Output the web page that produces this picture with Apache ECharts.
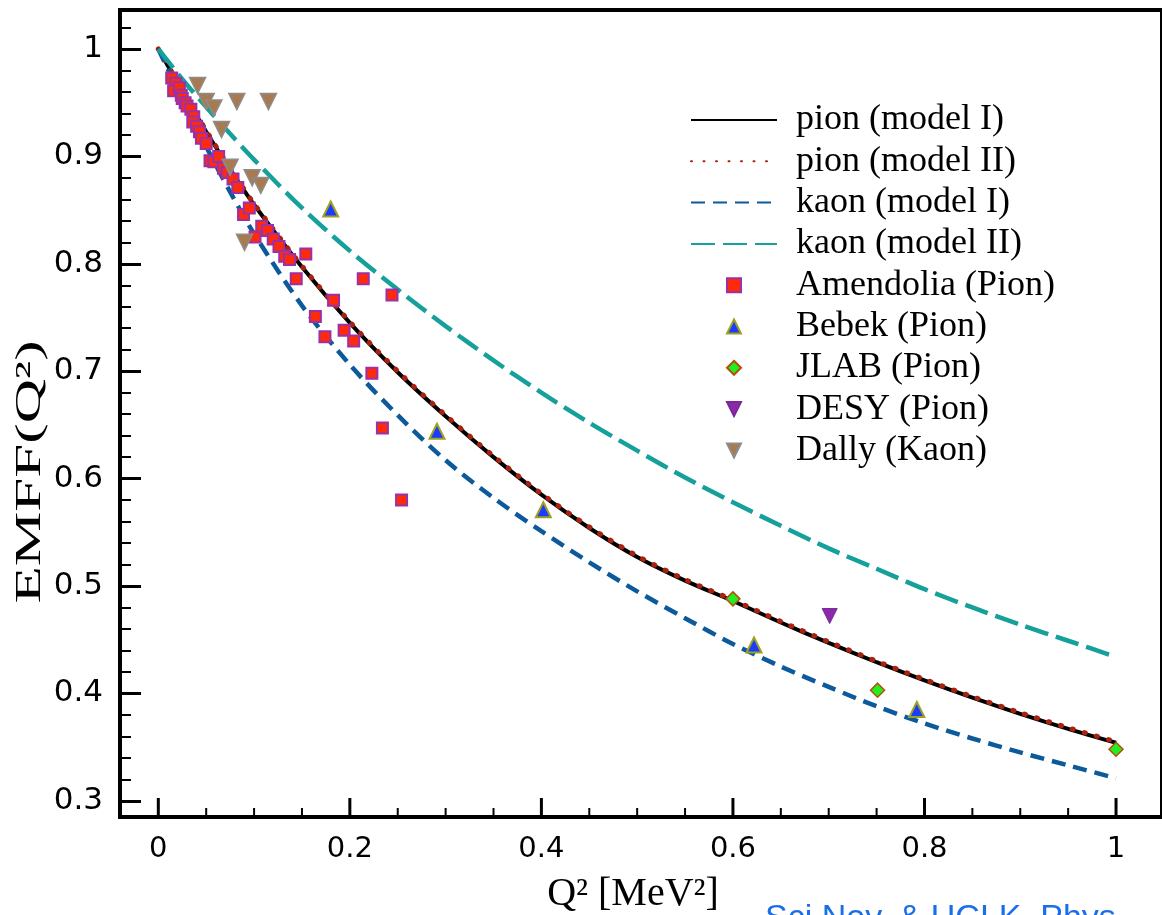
<!DOCTYPE html>
<html style="height: 100%">

<head>
    <meta charset="utf-8">
</head>

<body style="height: 100%; margin: 0; background: #fff">
    <div id="chart" style="width: 1162px; height: 915px"></div>

    <script type="text/javascript"
        src="https://cdn.jsdelivr.net/npm/echarts@6.0.0/dist/echarts.min.js"></script>

    <script type="text/javascript">
        // model curves on a fixed Q^2 grid
        var qGrid = [0, 0.025, 0.05, 0.075, 0.1, 0.15, 0.2, 0.25, 0.3, 0.35, 0.4, 0.45, 0.5, 0.55, 0.6, 0.65, 0.7, 0.75, 0.8, 0.85, 0.9, 0.95, 1];
        var pionModel1 = [1, 0.961, 0.923, 0.888, 0.855, 0.797, 0.745, 0.699, 0.658, 0.620, 0.585, 0.554, 0.527, 0.505, 0.486, 0.466, 0.447, 0.429, 0.412, 0.396, 0.381, 0.367, 0.354];
        var pionModel2 = [1, 0.962, 0.924, 0.889, 0.856, 0.798, 0.746, 0.700, 0.659, 0.621, 0.586, 0.555, 0.528, 0.506, 0.487, 0.467, 0.448, 0.430, 0.413, 0.397, 0.382, 0.368, 0.355];
        var kaonModel1 = [1, 0.953, 0.909, 0.867, 0.828, 0.761, 0.706, 0.659, 0.617, 0.582, 0.551, 0.522, 0.495, 0.470, 0.446, 0.425, 0.406, 0.388, 0.372, 0.358, 0.345, 0.333, 0.321];
        var kaonModel2 = [1, 0.972, 0.946, 0.921, 0.897, 0.852, 0.812, 0.776, 0.742, 0.710, 0.680, 0.652, 0.626, 0.601, 0.578, 0.556, 0.535, 0.516, 0.497, 0.480, 0.464, 0.449, 0.434];

        // experimental points [Q^2, EMFF]
        var amendolia = [
            [0.014, 0.973], [0.018, 0.968], [0.016, 0.961], [0.022, 0.964], [0.024, 0.957], [0.025, 0.954],
            [0.028, 0.950], [0.030, 0.947], [0.034, 0.944], [0.037, 0.937], [0.036, 0.932], [0.040, 0.928],
            [0.043, 0.923], [0.045, 0.917], [0.050, 0.912], [0.054, 0.896], [0.058, 0.895], [0.063, 0.900],
            [0.068, 0.889], [0.072, 0.885], [0.078, 0.879], [0.083, 0.871], [0.089, 0.846], [0.095, 0.852],
            [0.101, 0.825], [0.108, 0.835], [0.114, 0.831], [0.120, 0.823], [0.126, 0.816], [0.132, 0.807],
            [0.137, 0.804], [0.144, 0.786], [0.154, 0.809], [0.164, 0.751], [0.174, 0.732], [0.183, 0.766],
            [0.194, 0.738], [0.204, 0.728], [0.214, 0.786], [0.223, 0.698], [0.234, 0.647], [0.244, 0.771],
            [0.254, 0.580]
        ];
        var bebek = [[0.180, 0.851], [0.291, 0.644], [0.402, 0.571], [0.622, 0.445], [0.792, 0.385]];
        var jlab = [[0.600, 0.488], [0.751, 0.403], [1.000, 0.348]];
        var desy = [[0.701, 0.472]];
        var dally = [
            [0.041, 0.966], [0.050, 0.951], [0.058, 0.945], [0.082, 0.951], [0.115, 0.951],
            [0.066, 0.925], [0.075, 0.890], [0.098, 0.880], [0.107, 0.873], [0.090, 0.820]
        ];

        var lineNames = ['pion (model I)', 'pion (model II)', 'kaon (model I)', 'kaon (model II)'];
        var pointNames = ['Amendolia (Pion)', 'Bebek (Pion)', 'JLAB (Pion)', 'DESY (Pion)', 'Dally (Kaon)'];

        var xMajorTicks = [0, 0.2, 0.4, 0.6, 0.8, 1];
        var xMinorTicks = [0.05, 0.1, 0.15, 0.25, 0.3, 0.35, 0.45, 0.5, 0.55, 0.65, 0.7, 0.75, 0.85, 0.9, 0.95];
        var yMajorTicks = [0.3, 0.4, 0.5, 0.6, 0.7, 0.8, 0.9, 1];
        var yMinorTicks = [0.32, 0.34, 0.36, 0.38, 0.42, 0.44, 0.46, 0.48, 0.52, 0.54, 0.56, 0.58,
            0.62, 0.64, 0.66, 0.68, 0.72, 0.74, 0.76, 0.78, 0.82, 0.84, 0.86, 0.88,
            0.92, 0.94, 0.96, 0.98, 1.02];

        function zipCurve(values) {
            var out = [];
            for (let i = 0; i < qGrid.length; i++) {
                out.push([qGrid[i], values[i]]);
            }
            return out;
        }

        var dom = document.getElementById("chart");
        var myChart = echarts.init(dom);
        var option;

        var xMin = -0.04, xMax = 1.048;
        var yMin = 0.2849, yMax = 1.0363;
        var tickFont = 'DejaVu Sans';
        var rowStep = 41.3;
        var downTriangle = 'path://M0,0 L10,0 L5,10 Z';

        function curve(name, values, color, width, type, cap) {
            return {
                type: 'line',
                name: name,
                data: zipCurve(values),
                smooth: 0.3,
                symbol: 'none',
                showSymbol: false,
                lineStyle: { color: color, width: width, type: type, cap: cap || 'butt' },
                // hides the marker that the legend icon adds to a line
                itemStyle: { color: color, opacity: 0 },
                z: 2
            };
        }

        function points(name, data, symbol, size, fill, border, borderWidth) {
            return {
                type: 'scatter',
                name: name,
                data: data,
                symbol: symbol,
                symbolSize: size,
                itemStyle: { color: fill, borderColor: border, borderWidth: borderWidth, opacity: 1 },
                z: 3
            };
        }

        // an axis that only draws inward ticks
        function tickAxis(min, max, pos, ticks, len, width) {
            return {
                type: 'value', min: min, max: max, position: pos,
                axisLine: { show: true, onZero: false, lineStyle: { color: 'rgba(0,0,0,0)', width: 1 } },
                splitLine: { show: false },
                axisLabel: { show: false },
                axisTick: {
                    show: true, inside: true, length: len, customValues: ticks,
                    lineStyle: { color: '#000', width: width }
                }
            };
        }

        var xMain = tickAxis(xMin, xMax, 'bottom', xMajorTicks, 19, 3);
        xMain.axisTick.show = false;
        xMain.axisLabel = {
            show: true, customValues: xMajorTicks, margin: 18,
            fontFamily: tickFont, fontSize: 29, color: '#000',
            formatter: function (v) { return String(v); }
        };
        var yMain = tickAxis(yMin, yMax, 'left', yMajorTicks, 21, 3);
        yMain.axisLabel = {
            show: true, customValues: yMajorTicks, margin: 17,
            fontFamily: tickFont, fontSize: 31, color: '#000',
            formatter: function (v) { return String(v); }
        };

        var legendText = {
            fontFamily: 'Liberation Serif',
            fontSize: 36,
            color: '#000'
        };
        var pointLegendData = pointNames.map(function (n) {
            var down = (n === 'DESY (Pion)' || n === 'Dally (Kaon)');
            return down ? { name: n, icon: downTriangle } : { name: n };
        });

        option = {
            backgroundColor: '#fff',
            animation: false,
            grid: {
                left: 120, top: 10, right: -20, bottom: 98,
                show: true, borderColor: '#000', borderWidth: 4, backgroundColor: 'transparent'
            },
            legend: [
                {
                    orient: 'vertical',
                    left: 690,
                    top: 102,
                    padding: 0,
                    itemWidth: 86,
                    itemHeight: 12,
                    itemGap: rowStep - 36,
                    selectedMode: false,
                    textStyle: Object.assign({ padding: [0, 0, 0, 14] }, legendText),
                    data: lineNames
                },
                {
                    orient: 'vertical',
                    left: 726,
                    top: 102 + 4 * rowStep,
                    padding: 0,
                    itemWidth: 14,
                    itemHeight: 14,
                    itemGap: rowStep - 36,
                    selectedMode: false,
                    textStyle: Object.assign({ padding: [0, 0, 0, 50] }, legendText),
                    data: pointLegendData
                }
            ],
            xAxis: [xMain],
            yAxis: [yMain, tickAxis(yMin, yMax, 'left', yMinorTicks, 11, 2)],
            graphic: [
                {
                    type: 'text',
                    id: 'yTitle',
                    x: 31, y: 472,
                    rotation: Math.PI / 2,
                    scaleX: 1.7,
                    style: {
                        text: 'EMFF(Q²)',
                        fill: '#000',
                        fontFamily: 'Liberation Serif',
                        fontSize: 36,
                        align: 'center', textAlign: 'center',
                        verticalAlign: 'middle', textVerticalAlign: 'middle'
                    }
                },
                {
                    type: 'text',
                    id: 'xTitle',
                    x: 633, y: 894,
                    style: {
                        text: 'Q² [MeV²]',
                        fill: '#000',
                        fontFamily: 'Liberation Serif',
                        fontSize: 40,
                        align: 'center', textAlign: 'center',
                        verticalAlign: 'middle', textVerticalAlign: 'middle'
                    }
                },
                {
                    type: 'text',
                    id: 'credit',
                    left: 765, top: 902,
                    style: {
                        text: 'Sci.Nov. & UCI K. Phys.',
                        fill: '#1a6fe8',
                        fontFamily: 'Liberation Sans',
                        fontSize: 34
                    }
                }
            ],
            series: [
                curve(lineNames[0], pionModel1, '#000000', 4, 'solid'),
                curve(lineNames[1], pionModel2, '#a8220f', 5, [1, 11.5], 'round'),
                curve(lineNames[2], kaonModel1, '#0c5a9c', 4.5, [14, 8]),
                curve(lineNames[3], kaonModel2, '#16a09c', 4.5, [24, 8]),
                points(pointNames[0], amendolia, 'rect', 11, '#ff2a0a', '#9b30a8', 2),
                points(pointNames[1], bebek, 'triangle', 15, '#1a3cff', '#a0a020', 2),
                points(pointNames[2], jlab, 'diamond', 14, '#22ee22', '#b4500a', 1.5),
                points(pointNames[3], desy, downTriangle, 15, '#8a2aa8', '#7a2898', 1),
                points(pointNames[4], dally, downTriangle, 16, '#a87a50', '#8c8c8c', 1.5)
            ]
        };

        if (option && typeof option === 'object') {
            myChart.setOption(option);
        }

        // bottom ticks: positions come from the x axis scale, drawn on top of everything
        var tickMarks = [];
        function addTicks(ticks, len, width, prefix) {
            ticks.forEach(function (v, i) {
                var p = myChart.convertToPixel({ gridIndex: 0 }, [v, yMin]);
                tickMarks.push({
                    type: 'line', id: prefix + i, z: 100,
                    shape: { x1: p[0], y1: p[1], x2: p[0], y2: p[1] - len },
                    style: { stroke: '#000', lineWidth: width }
                });
            });
        }
        addTicks(xMajorTicks, 19, 3, 'xMajor');
        addTicks(xMinorTicks, 9, 2, 'xMinor');
        myChart.setOption({ graphic: tickMarks });
    </script>
</body>

</html>
